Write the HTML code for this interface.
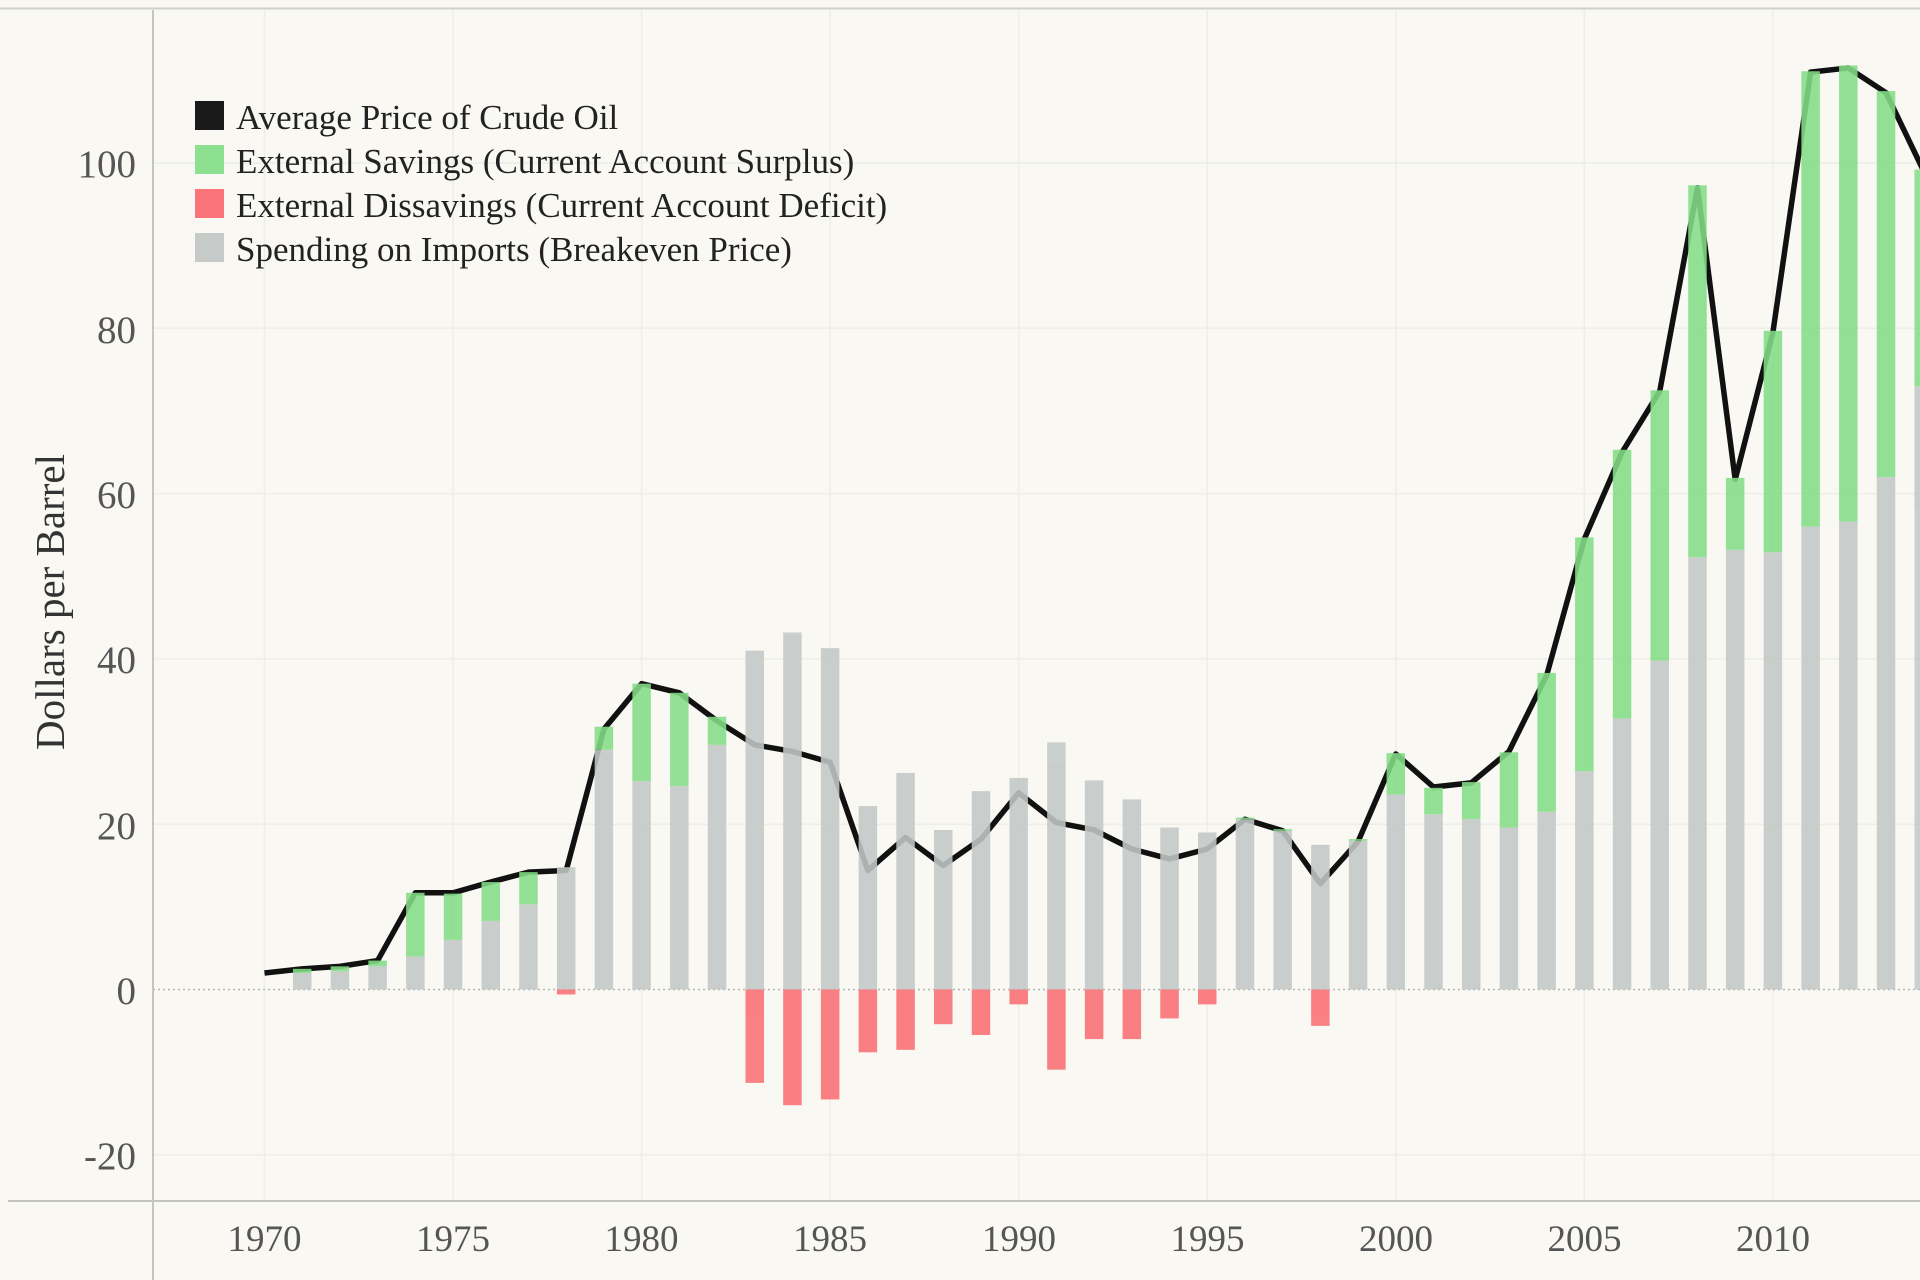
<!DOCTYPE html>
<html><head><meta charset="utf-8">
<style>
html,body{margin:0;padding:0;background:#f9f8f3;}
svg{display:block;font-family:"Liberation Serif",serif;}
</style></head>
<body>
<svg id="c" width="1920" height="1280" viewBox="0 0 1920 1280" xmlns="http://www.w3.org/2000/svg">
<rect width="1920" height="1280" fill="#f9f8f3"/>
<line x1="0" y1="8.5" x2="1920" y2="8.5" stroke="#cfcfcb" stroke-width="2"/>
<g id="grid" stroke="#eeede8" stroke-width="1.5"></g>
<line x1="153" y1="989.5" x2="1920" y2="989.5" stroke="#b5b5b2" stroke-width="1.5" stroke-dasharray="2,3"/>
<line x1="153" y1="10" x2="153" y2="1280" stroke="#c4c4c0" stroke-width="2"/>
<line x1="8" y1="1201" x2="1920" y2="1201" stroke="#c4c4c0" stroke-width="2"/>
<g id="line"></g>
<g id="bars" opacity="0.88"></g>
<g font-size="39" fill="#555" text-anchor="end">
<text x="136" y="177">100</text>
<text x="136" y="343">80</text>
<text x="136" y="508">60</text>
<text x="136" y="673">40</text>
<text x="136" y="839">20</text>
<text x="136" y="1004">0</text>
<text x="136" y="1169">-20</text>
</g>
<g font-size="37" fill="#555" text-anchor="middle">
<text x="264.5" y="1251">1970</text>
<text x="453" y="1251">1975</text>
<text x="641.5" y="1251">1980</text>
<text x="830" y="1251">1985</text>
<text x="1019" y="1251">1990</text>
<text x="1207.5" y="1251">1995</text>
<text x="1396" y="1251">2000</text>
<text x="1584.5" y="1251">2005</text>
<text x="1773" y="1251">2010</text>
</g>
<text transform="translate(64,602) rotate(-90)" font-size="41" fill="#333" text-anchor="middle">Dollars per Barrel</text>
<g font-size="35" fill="#222">
<rect x="195" y="101" width="29" height="29" fill="#1a1a1a"/>
<text x="236" y="129">Average Price of Crude Oil</text>
<rect x="195" y="145" width="29" height="29" fill="#8de08f"/>
<text x="236" y="173">External Savings (Current Account Surplus)</text>
<rect x="195" y="189" width="29" height="29" fill="#f9757a"/>
<text x="236" y="217">External Dissavings (Current Account Deficit)</text>
<rect x="195" y="233" width="29" height="29" fill="#c6cbc9"/>
<text x="236" y="261">Spending on Imports (Breakeven Price)</text>
</g>
</svg>
<script>
var X=function(y){return 264.5+(y-1970)*37.71;};
var Y=function(v){return 989.5-8.265*v;};
var ns="http://www.w3.org/2000/svg";
function el(p,t,a){var e=document.createElementNS(ns,t);for(var k in a)e.setAttribute(k,a[k]);p.appendChild(e);return e;}
var g=document.getElementById('grid');
for(var yr=1970;yr<=2015;yr+=5)el(g,'line',{x1:X(yr),y1:10,x2:X(yr),y2:1200});
[100,80,60,40,20,-20].forEach(function(v){el(g,'line',{x1:153,y1:Y(v),x2:1920,y2:Y(v)});});
var price=[2,2.5,2.8,3.5,11.7,11.7,13,14.2,14.4,31.5,37,35.9,32.5,29.6,28.8,27.5,14.4,18.4,15,18.2,23.8,20.2,19.3,17,15.8,17,20.6,19.2,12.8,17.9,28.5,24.5,25,28.8,38,54.5,65,72.4,97,61.7,79.5,111,111.5,108.5,99];
var pts=price.map(function(v,i){return X(1970+i)+','+Y(v);}).join(' ');
el(document.getElementById('line'),'polyline',{points:pts,fill:'none',stroke:'#111','stroke-width':5.5,'stroke-linejoin':'round'});
var d=[[1971,2,2.5,0],[1972,2.2,2.8,0],[1973,2.8,3.5,0],[1974,4,11.7,0],[1975,6,11.6,0],[1976,8.3,13,0],[1977,10.3,14.2,0],[1978,14.8,0,-0.6],[1979,29,31.8,0],[1980,25.2,37,0],[1981,24.6,35.9,0],[1982,29.6,33,0],[1983,41,0,-11.3],[1984,43.2,0,-14],[1985,41.3,0,-13.3],[1986,22.2,0,-7.6],[1987,26.2,0,-7.3],[1988,19.3,0,-4.2],[1989,24,0,-5.5],[1990,25.6,0,-1.8],[1991,29.9,0,-9.7],[1992,25.3,0,-6],[1993,23,0,-6],[1994,19.6,0,-3.5],[1995,19,0,-1.8],[1996,20.6,20.8,0],[1997,19.2,19.4,0],[1998,17.5,0,-4.4],[1999,18,18.2,0],[2000,23.6,28.6,0],[2001,21.2,24.4,0],[2002,20.6,25.1,0],[2003,19.6,28.7,0],[2004,21.5,38.3,0],[2005,26.4,54.7,0],[2006,32.8,65.3,0],[2007,39.8,72.5,0],[2008,52.3,97.3,0],[2009,53.2,61.9,0],[2010,52.9,79.7,0],[2011,56,111.1,0],[2012,56.6,111.8,0],[2013,62,108.7,0],[2014,73,99.2,0]];
var b=document.getElementById('bars');var w=18.5;
d.forEach(function(r){var x=X(r[0])-w/2;
el(b,'rect',{x:x,y:Y(r[1]),width:w,height:Y(0)-Y(r[1]),fill:'#c3c9c7'});
if(r[2]>r[1])el(b,'rect',{x:x,y:Y(r[2]),width:w,height:Y(r[1])-Y(r[2]),fill:'#84dd87'});
if(r[3]<0)el(b,'rect',{x:x,y:Y(0),width:w,height:Y(r[3])-Y(0),fill:'#f96f74'});
});
</script>
</body></html>
